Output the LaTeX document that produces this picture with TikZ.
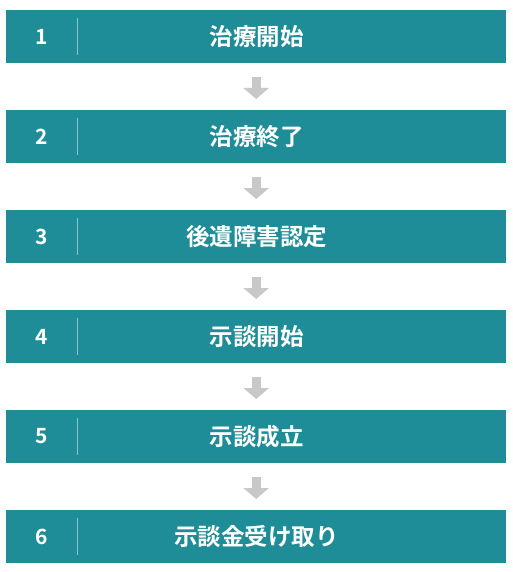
\documentclass[tikz,border=0pt]{standalone}
\usepackage{fontspec}
\newfontfamily\jp{Noto Sans CJK JP}[BoldFont={* Bold}]
\usetikzlibrary{arrows.meta,calc}
\definecolor{teal1}{HTML}{1E8D98}
\definecolor{divcol}{HTML}{8CC6CC}
\definecolor{arrgray}{HTML}{C8C8C8}
\tikzset{
  stepbox/.style={fill=teal1, draw=none, minimum width=500pt, minimum height=52.6pt, inner sep=0pt, anchor=north west},
  numlabel/.style={text=white, font=\jp\bfseries\fontsize{21}{21}\selectfont, inner sep=0pt},
  titlelabel/.style={text=white, font=\jp\bfseries\fontsize{23.5}{24}\selectfont, inner sep=0pt},
  divline/.style={draw=divcol, line width=1pt},
  flowarrow/.style={draw=arrgray, line width=9pt, shorten <=14pt, shorten >=11pt,
    -{Triangle[width=25pt,length=11pt]}},
}
\begin{document}
\begin{tikzpicture}[x=1pt,y=-1pt]
\useasboundingbox (0,0) rectangle (513,572);
\foreach \i/\t in {1/治療開始,2/治療終了,3/後遺障害認定,4/示談開始,5/示談成立,6/示談金受け取り}{
  \node[stepbox] (b\i) at (6,{10+100*(\i-1)}) {};
  \node[numlabel] (n\i) at ($(b\i.west)+(36,0)$) {\i};
  \node[titlelabel] (t\i) at ($(b\i.center)+(0.5,0)$) {\t};
  \coordinate (dt\i) at ($(b\i.north west)+(71.5,8)$);
  \coordinate (db\i) at ($(b\i.south west)+(71.5,-8)$);
  \draw[divline] (dt\i) -- (db\i);
}
\foreach \i [evaluate=\i as \j using int(\i+1)] in {1,...,5}{
  \draw[flowarrow] (b\i.south) -- (b\j.north);
}
\end{tikzpicture}
\end{document}
